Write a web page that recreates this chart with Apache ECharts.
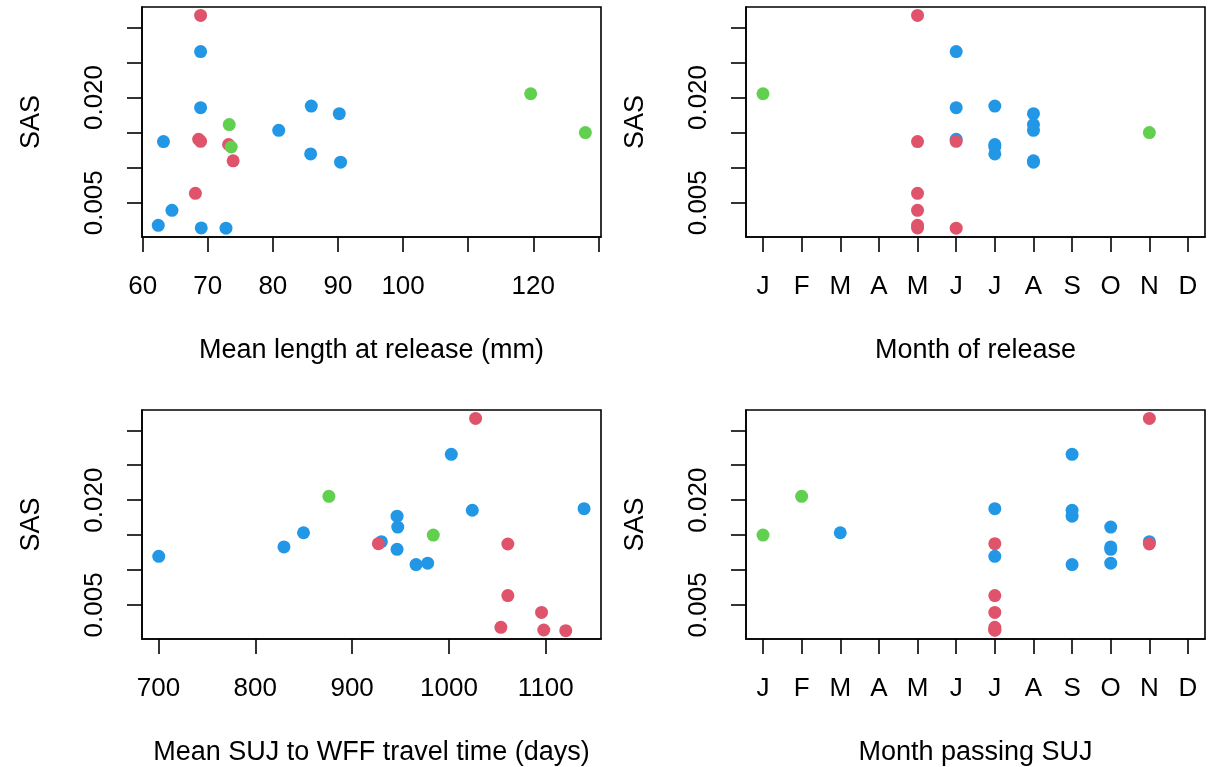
<!DOCTYPE html>
<html>
<head>
<meta charset="utf-8">
<script src="https://cdn.jsdelivr.net/npm/echarts@6/dist/echarts.min.js"></script>
<style>
html,body{margin:0;padding:0;background:#fff;}
#chart{width:1220px;height:767px;}
</style>
</head>
<body>
<div id="chart"></div>
<script>
// ---- Data ----
const monthLabels = ['J','F','M','A','M','J','J','A','S','O','N','D'];
const sasTicks = [0.005, 0.010, 0.015, 0.020, 0.025, 0.030];
const sasLabels = [0.005, 0.020];
const lengthTicks = [60, 70, 80, 90, 100, 110, 120, 130];
const lengthLabels = [60, 70, 80, 90, 100, 120];
const travelTicks = [700, 800, 900, 1000, 1100];
const monthTicks = [1,2,3,4,5,6,7,8,9,10,11,12];

// Panel 1: Mean length at release (mm)
const lenBlue = [[68.9,0.02655],[68.9,0.01855],[63.2,0.01372],[80.9,0.01533],[85.9,0.01878],[90.2,0.0177],[85.8,0.01196],[90.4,0.01078],[64.5,0.00392],[62.4,0.00179],[69.0,0.00141],[72.8,0.00138]];
const lenRed = [[68.9,0.0317],[68.6,0.01405],[68.9,0.01376],[73.2,0.0133],[73.9,0.01097],[68.1,0.00634]];
const lenGreen = [[73.3,0.01614],[73.6,0.01295],[119.6,0.02054],[128.0,0.0150]];

// Panel 2: Month of release
const relBlue = [[6,0.02655],[6,0.01855],[6,0.01405],[7,0.01878],[7,0.0133],[7,0.01295],[7,0.01196],[8,0.0177],[8,0.01614],[8,0.01533],[8,0.01097],[8,0.01078]];
const relRed = [[5,0.0317],[5,0.01372],[5,0.00634],[5,0.00392],[5,0.00179],[5,0.00141],[6,0.01376],[6,0.00138]];
const relGreen = [[1,0.02054],[11,0.0150]];

// Panel 3: Mean SUJ to WFF travel time (days)
const travBlue = [[700.3,0.01196],[829.6,0.0133],[849.8,0.01533],[1002.4,0.02655],[1024.1,0.01855],[1139.5,0.01878],[946.4,0.0177],[947.1,0.01614],[930.2,0.01405],[946.4,0.01295],[966,0.01078],[978,0.01097]];
const travRed = [[1027.5,0.0317],[927.1,0.01376],[1060.8,0.01372],[1060.8,0.00634],[1095.6,0.00392],[1053.6,0.00179],[1097.9,0.00141],[1120.6,0.00131]];
const travGreen = [[876,0.02054],[983.8,0.0150]];

// Panel 4: Month passing SUJ
const pasBlue = [[3,0.01533],[7,0.01878],[7,0.01196],[9,0.02655],[9,0.01855],[9,0.0177],[9,0.01078],[10,0.01614],[10,0.0133],[10,0.01295],[10,0.01097],[11,0.01405]];
const pasRed = [[7,0.01376],[7,0.00634],[7,0.00392],[7,0.00179],[7,0.00141],[7,0.00138],[11,0.0317],[11,0.01372]];
const pasGreen = [[1,0.0150],[2,0.02054]];

// ---- Styling ----
const FONT = 'Liberation Sans, Arial, sans-serif';
const FS = 26;
const FS_NAME = 27;
const COL_RED = '#DF536B', COL_BLUE = '#2297E6', COL_GREEN = '#61D04F';
const LW = 1.6;

function mkX(gi, name, min, max, ticks, labels, fmt) {
  return {
    type: 'value', gridIndex: gi, min: min, max: max, name: name,
    nameLocation: 'middle', nameGap: 100,
    nameTextStyle: {fontSize: FS_NAME, fontFamily: FONT, color: '#000'},
    axisLine: {show: true, onZero: false, lineStyle: {color: '#000', width: LW}},
    axisTick: {show: true, length: 15, customValues: ticks, lineStyle: {color: '#000', width: LW}},
    axisLabel: {customValues: labels, margin: 37, fontSize: FS, fontFamily: FONT, color: '#000',
      formatter: fmt || (v => String(v))},
    splitLine: {show: false}
  };
}
function mkY(gi) {
  return {
    type: 'value', gridIndex: gi, min: 0.00012, max: 0.0329, name: 'SAS',
    nameLocation: 'middle', nameGap: 97, nameRotate: 90,
    nameTextStyle: {fontSize: FS_NAME, fontFamily: FONT, color: '#000'},
    axisLine: {show: true, onZero: false, lineStyle: {color: '#000', width: LW}},
    axisTick: {show: true, length: 15, customValues: sasTicks, lineStyle: {color: '#000', width: LW}},
    axisLabel: {customValues: sasLabels, rotate: 90, margin: 34, fontSize: FS, fontFamily: FONT, color: '#000',
      formatter: v => v.toFixed(3)},
    splitLine: {show: false}
  };
}
function ser(gi, data, color) {
  return {type: 'scatter', xAxisIndex: gi, yAxisIndex: gi, data: data, symbol: 'circle', symbolSize: 13,
    itemStyle: {color: color, opacity: 1}, emphasis: {disabled: true}, silent: true};
}
const monthFmt = v => monthLabels[Math.round(v) - 1];
const gridBase = {show: true, borderColor: '#000', borderWidth: LW, backgroundColor: 'transparent', containLabel: false};

const option = {
  animation: false,
  backgroundColor: '#fff',
  grid: [
    Object.assign({left: 142, top: 7, width: 459, height: 230}, gridBase),
    Object.assign({left: 746, top: 7, width: 459, height: 230}, gridBase),
    Object.assign({left: 142, top: 410, width: 459, height: 230}, gridBase),
    Object.assign({left: 746, top: 410, width: 459, height: 230}, gridBase)
  ],
  xAxis: [
    mkX(0, 'Mean length at release (mm)', 59.9, 130.4, lengthTicks, lengthLabels),
    mkX(1, 'Month of release', 0.56, 12.44, monthTicks, monthTicks, monthFmt),
    mkX(2, 'Mean SUJ to WFF travel time (days)', 683, 1157, travelTicks, travelTicks),
    mkX(3, 'Month passing SUJ', 0.56, 12.44, monthTicks, monthTicks, monthFmt)
  ],
  yAxis: [mkY(0), mkY(1), mkY(2), mkY(3)],
  series: [
    ser(0, lenBlue, COL_BLUE), ser(0, lenRed, COL_RED), ser(0, lenGreen, COL_GREEN),
    ser(1, relBlue, COL_BLUE), ser(1, relRed, COL_RED), ser(1, relGreen, COL_GREEN),
    ser(2, travBlue, COL_BLUE), ser(2, travRed, COL_RED), ser(2, travGreen, COL_GREEN),
    ser(3, pasBlue, COL_BLUE), ser(3, pasRed, COL_RED), ser(3, pasGreen, COL_GREEN)
  ]
};
const chart = echarts.init(document.getElementById('chart'), null, {renderer: 'canvas'});
chart.setOption(option);
</script>
</body>
</html>
